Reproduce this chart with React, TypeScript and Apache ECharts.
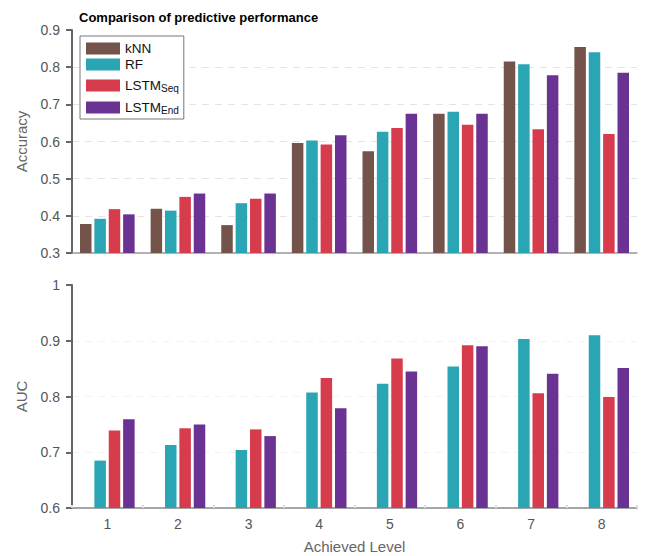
import React, { useEffect, useRef } from "react";
import * as echarts from "echarts";

const levels = ["1", "2", "3", "4", "5", "6", "7", "8"];
const seriesNames = ["kNN", "RF", "LSTM_Seq", "LSTM_End"];
const colors = ["#74534a", "#2aa5b3", "#d63c4c", "#6a3393"];

const accKNN = [0.378, 0.419, 0.375, 0.596, 0.574, 0.675, 0.815, 0.854];
const accRF = [0.392, 0.414, 0.434, 0.603, 0.626, 0.680, 0.808, 0.840];
const accSeq = [0.418, 0.451, 0.446, 0.592, 0.636, 0.645, 0.633, 0.620];
const accEnd = [0.404, 0.460, 0.460, 0.617, 0.675, 0.675, 0.778, 0.785];

const aucKNN: (number | null)[] = [null, null, null, null, null, null, null, null];
const aucRF = [0.685, 0.713, 0.704, 0.807, 0.823, 0.854, 0.903, 0.910];
const aucSeq = [0.739, 0.743, 0.741, 0.833, 0.868, 0.892, 0.806, 0.799];
const aucEnd = [0.759, 0.750, 0.729, 0.779, 0.845, 0.890, 0.841, 0.851];

const accTicks = { min: 0.3, max: 0.9, interval: 0.1 };
const aucTicks = { min: 0.6, max: 1.0, interval: 0.1 };

const FONT = "Liberation Sans, Arial, Helvetica, sans-serif";

export default function App() {
  const ref = useRef<HTMLDivElement>(null);
  useEffect(() => {
    if (!ref.current) return;
    const chart = echarts.init(ref.current, undefined, { renderer: "svg" });
    const accData = [accKNN, accRF, accSeq, accEnd];
    const aucData = [aucKNN, aucRF, aucSeq, aucEnd];
    const barCommon = { barWidth: 11.5, barGap: "25%", barCategoryGap: "10%" };
    const series: any[] = [];
    seriesNames.forEach((n, i) => {
      series.push({
        type: "bar",
        name: n,
        xAxisIndex: 0,
        yAxisIndex: 0,
        data: accData[i],
        itemStyle: { color: colors[i] },
        ...barCommon,
      });
    });
    seriesNames.forEach((n, i) => {
      series.push({
        type: "bar",
        name: n,
        xAxisIndex: 1,
        yAxisIndex: 1,
        data: aucData[i],
        itemStyle: { color: colors[i] },
        ...barCommon,
      });
    });
    const yCommon = {
      type: "value",
      axisLine: { show: true, lineStyle: { color: "#666", width: 2 } },
      axisTick: { show: true, length: 6, lineStyle: { color: "#666", width: 2 } },
      axisLabel: { color: "#555", fontSize: 14, fontFamily: FONT, margin: 12 },
      nameLocation: "middle",
      nameGap: 43,
      nameTextStyle: { color: "#666", fontSize: 15, fontFamily: FONT },
    };
    chart.setOption({
      animation: false,
      backgroundColor: "#fff",
      title: {
        text: "Comparison of predictive performance",
        left: 74,
        top: 6,
        textStyle: { fontSize: 13, fontWeight: "bold", color: "#000", fontFamily: FONT },
      },
      legend: {
        data: seriesNames,
        orient: "vertical",
        left: 80,
        top: 36,
        itemWidth: 34,
        itemHeight: 12,
        itemGap: 2,
        padding: [5, 5, 4, 6],
        borderColor: "#777",
        borderWidth: 1,
        backgroundColor: "#fff",
        icon: "rect",
        formatter: (name: string) => {
          if (name.indexOf("_") >= 0) {
            const [a, b] = name.split("_");
            return `{a|${a}}{b|${b}}`;
          }
          return `{a|${name}}`;
        },
        textStyle: {
          color: "#111",
          fontFamily: FONT,
          rich: {
            a: { fontSize: 13.5, lineHeight: 15, verticalAlign: "top", fontFamily: FONT, color: "#111" },
            b: { fontSize: 10, lineHeight: 11, padding: [10, 0, 0, 0], verticalAlign: "bottom", fontFamily: FONT, color: "#111" },
          },
        },
      },
      grid: [
        { left: 72, right: 15, top: 30, bottom: 303 },
        { left: 72, right: 15, top: 285, bottom: 48 },
      ],
      xAxis: [
        {
          type: "category",
          gridIndex: 0,
          data: levels,
          axisLine: { lineStyle: { color: "#999", width: 1.5 } },
          axisTick: { show: false },
          axisLabel: { show: false },
        },
        {
          type: "category",
          gridIndex: 1,
          data: levels,
          axisLine: { lineStyle: { color: "#888", width: 1.5 } },
          axisTick: { show: true, inside: true, length: 3, lineStyle: { color: "#ddd", width: 2 } },
          axisLabel: { color: "#555", fontSize: 14, fontFamily: FONT, margin: 9 },
          name: "Achieved Level",
          nameLocation: "middle",
          nameGap: 31,
          nameTextStyle: { color: "#666", fontSize: 15, fontFamily: FONT },
        },
      ],
      yAxis: [
        {
          ...yCommon,
          gridIndex: 0,
          ...accTicks,
          name: "Accuracy",
          splitLine: {
            show: true,
            lineStyle: {
              type: [7, 6],
              width: 1,
              color: ["transparent", "#e4e4e4", "#e4e4e4", "#e4e4e4", "#e4e4e4", "#e4e4e4", "transparent"],
            },
          },
        },
        {
          ...yCommon,
          gridIndex: 1,
          ...aucTicks,
          name: "AUC",
          splitLine: {
            show: true,
            lineStyle: {
              type: [7, 6],
              width: 1,
              color: ["transparent", "#f3f3f3", "#f3f3f3", "#f3f3f3", "transparent"],
            },
          },
        },
      ],
      series,
    });
    return () => chart.dispose();
  }, []);
  return <div ref={ref} style={{ position: "fixed", left: 0, top: 0, width: 652, height: 556 }} />;
}
